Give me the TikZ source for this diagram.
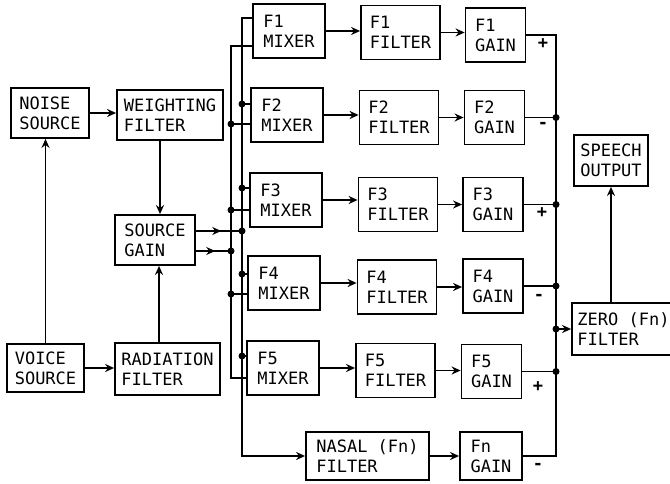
\documentclass[tikz,border=0pt]{standalone}
\usepackage{fontspec}
\setmonofont{DejaVu Sans Mono}
\usetikzlibrary{arrows.meta,decorations.markings}

\begin{document}
\begin{tikzpicture}[x=1pt,y=-1pt,
    blk/.style={draw,line width=1.8pt,align=left,inner sep=2pt,
      font=\ttfamily\fontsize{17}{20}\selectfont},
    mixbox/.style={blk,minimum width=72pt,minimum height=54pt},
    filtbox/.style={blk,minimum width=79pt,minimum height=54pt},
    gainbox/.style={blk,minimum width=60pt,minimum height=54pt},
    wire/.style={line width=1.6pt},
    arr/.style={wire,-{Stealth[length=9pt,width=8pt]}},
    midarr/.style={postaction={decorate},decoration={markings,
      mark=at position 0.55 with {\arrow{Stealth[length=9pt,width=8pt]}}}},
    sign/.style={font=\ttfamily\bfseries\fontsize{17}{17}\selectfont}]
    \useasboundingbox (0,0) rectangle (670,484);
    % source side
    \node[blk,minimum width=78pt,minimum height=50pt] (noise) at (50,113) {NOISE\\SOURCE};
    \node[blk,minimum width=106pt,minimum height=50pt] (weight) at (170,115) {WEIGHTING\\FILTER};
    \node[blk,minimum width=80pt,minimum height=50pt] (sgain) at (155,240) {SOURCE\\GAIN};
    \node[blk,minimum width=77pt,minimum height=48pt] (voice) at (45.5,368) {VOICE\\SOURCE};
    \node[blk,minimum width=105pt,minimum height=52pt] (rad) at (167.5,369) {RADIATION\\FILTER};
    \draw[arr] (noise.east) -- (noise.east -| weight.west);
    \draw[arr] ([xshift=5pt]weight.south -| sgain.north) -- ([xshift=5pt]sgain.north);
    \draw[arr] ([xshift=4pt]sgain.south |- rad.north) -- ([xshift=4pt]sgain.south);
    \draw[arr] (voice.north) -- (voice.north |- noise.south);
    \draw[arr] (voice.east) -- (voice.east -| rad.west);
    % formant channels
    \foreach \i/\x/\y in {1/289/31, 2/287/115, 3/286/200, 4/284/283, 5/283/368}
        \node[mixbox] (m\i) at (\x,\y) {F\i\\MIXER};
    \foreach \i/\x/\y in {1/400.5/32.5, 2/399/117.5, 3/398/204.5, 4/397/287, 5/395.5/370.5}
        \node[filtbox] (f\i) at (\x,\y) {F\i\\FILTER};
    \foreach \i/\x/\y in {1/495.5/35, 2/494.5/117.5, 3/493/204.5, 4/493/286, 5/491.5/371.5}
        \node[gainbox] (g\i) at (\x,\y) {F\i\\GAIN};
    \node[blk,minimum width=123pt,minimum height=48pt] (nasal) at (367.5,456) {NASAL (Fn)\\FILTER};
    \node[blk,minimum width=62pt,minimum height=48pt] (fn) at (491,456) {Fn\\GAIN};
    \node[blk,minimum width=74pt,minimum height=51pt] (speech) at (611,160.5) {SPEECH\\OUTPUT};
    \node[blk,minimum width=103pt,minimum height=52pt] (zero) at (623.5,329) {ZERO (Fn)\\FILTER};
    \foreach \i in {1,...,5} {
        \draw[arr] (m\i.east) -- (m\i.east -| f\i.west);
        \draw[arr] (f\i.east) -- (f\i.east -| g\i.west);
    }
    \draw[arr] (nasal.east) -- (nasal.east -| fn.west);
    % source buses
    \coordinate (rtop) at (242,18);
    \coordinate (rbot) at (242,456);
    \coordinate (ltop) at (231,46);
    \coordinate (lbot) at (231,378);
    \draw[arr] (m1.west |- rtop) -- (rtop) -- (rbot) -- (nasal.west |- rbot);
    \draw[wire] (m1.west |- ltop) -- (ltop) -- (lbot) -- (m5.west |- lbot);
    \foreach \i/\u/\l in {2/104/124, 3/188/210, 4/274/294} {
        \coordinate (u\i) at (242,\u);
        \coordinate (l\i) at (231,\l);
        \draw[wire] (u\i) -- (m\i.west |- u\i);
        \draw[wire] (l\i) -- (m\i.west |- l\i);
        \fill (u\i) circle (3.5pt) (l\i) circle (3.5pt);
    }
    \coordinate (u5) at (242,356);
    \draw[wire] (u5) -- (m5.west |- u5);
    \fill (u5) circle (3.5pt);
    \coordinate (su) at (242,231);
    \coordinate (sl) at (231,251);
    \draw[wire,midarr] (sgain.east |- su) -- (su);
    \draw[wire,midarr] (sgain.east |- sl) -- (sl);
    \fill (su) circle (3.5pt) (sl) circle (3.5pt);
    % summing bus
    \coordinate (sb) at (556,0);
    \draw[wire] (g1.east) -| (sb |- fn.east) -- (fn.east);
    \foreach \i in {2,...,5} {
        \draw[wire] (g\i.east) -- (g\i.east -| sb);
        \fill (g\i.east -| sb) circle (3.5pt);
    }
    \draw[arr] (sb |- zero.west) -- (zero.west);
    \fill (sb |- zero.west) circle (3.5pt);
    \draw[arr] (zero.north -| speech.south) -- (speech.south);
    % signs
    \node[sign] (p1) at (543,44) {+};
    \node[sign] (n2) at (543,125) {-};
    \node[sign] (p3) at (542,213) {+};
    \node[sign] (n4) at (539,297) {-};
    \node[sign] (p5) at (538,387) {+};
    \node[sign] (n6) at (538,466) {-};
\end{tikzpicture}
\end{document}
